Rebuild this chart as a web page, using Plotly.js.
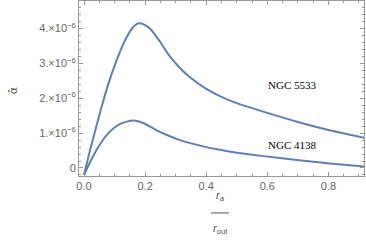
<!DOCTYPE html>
<html><head><meta charset="utf-8">
<script src="https://cdn.plot.ly/plotly-3.0.1.min.js"></script>
<style>html,body{margin:0;padding:0;background:#fff}#chart{width:366px;height:240px}</style>
</head><body><div id="chart"></div>
<script>
const ratio1 = [0, 0.02, 0.04, 0.06, 0.08, 0.10, 0.12, 0.14, 0.16, 0.178, 0.195, 0.216, 0.249, 0.281, 0.314, 0.35, 0.40, 0.45, 0.50, 0.60, 0.70, 0.80, 0.92];
const ngc5533 = [-0.2e-6, 0.52e-6, 1.18e-6, 1.83e-6, 2.42e-6, 2.93e-6, 3.38e-6, 3.76e-6, 4.03e-6, 4.15e-6, 4.12e-6, 4.00e-6, 3.62e-6, 3.20e-6, 2.87e-6, 2.58e-6, 2.27e-6, 2.04e-6, 1.86e-6, 1.58e-6, 1.32e-6, 1.09e-6, 0.86e-6];
const ratio2 = [0, 0.02, 0.04, 0.06, 0.08, 0.10, 0.12, 0.14, 0.163, 0.194, 0.238, 0.281, 0.314, 0.39, 0.445, 0.5, 0.587, 0.696, 0.805, 0.92];
const ngc4138 = [-0.2e-6, 0.17e-6, 0.50e-6, 0.78e-6, 1.00e-6, 1.16e-6, 1.27e-6, 1.33e-6, 1.36e-6, 1.29e-6, 1.08e-6, 0.91e-6, 0.80e-6, 0.62e-6, 0.52e-6, 0.44e-6, 0.34e-6, 0.23e-6, 0.13e-6, 0.04e-6];
const seriesNames = ["NGC 5533", "NGC 4138"];
const yTickVals = [0, 1e-6, 2e-6, 3e-6, 4e-6];
const yTickText = ["0", "1.×10<sup>−6</sup>", "2.×10<sup>−6</sup>", "3.×10<sup>−6</sup>", "4.×10<sup>−6</sup>"];
const xTickVals = [0, 0.2, 0.4, 0.6, 0.8];
const xTickText = ["0.0", "0.2", "0.4", "0.6", "0.8"];

const lineColor = '#5E81B5';
const traces = [
  {x: ratio1, y: ngc5533, mode: 'lines', line: {color: lineColor, width: 2, shape: 'spline', smoothing: 0.6}, name: seriesNames[0]},
  {x: ratio2, y: ngc4138, mode: 'lines', line: {color: lineColor, width: 2, shape: 'spline', smoothing: 0.6}, name: seriesNames[1]}
];
const axisCommon = {
  showgrid: false, zeroline: false, showline: true, linecolor: '#999', linewidth: 1,
  mirror: 'allticks', ticks: 'inside', ticklen: 4, tickcolor: '#999', tickwidth: 1,
  tickfont: {family: 'Liberation Sans, Arial, sans-serif', size: 11, color: '#666'}
};
const txtFont = {family: 'Liberation Sans, Arial, sans-serif', size: 11, color: '#555'};
const labelFont = {family: 'Liberation Serif, Times New Roman, serif', size: 11, color: '#000'};
const layout = {
  width: 366, height: 240,
  margin: {l: 79, r: 2, t: 1, b: 64},
  paper_bgcolor: '#fff', plot_bgcolor: '#fff',
  showlegend: false,
  xaxis: Object.assign({}, axisCommon, {
    range: [-0.0164, 0.9165], tickmode: 'array', tickvals: xTickVals, ticktext: xTickText,
    minor: {tickmode: 'linear', tick0: 0, dtick: 0.05, ticks: 'inside', ticklen: 2, tickcolor: '#999'}
  }),
  yaxis: Object.assign({}, axisCommon, {
    range: [-0.23e-6, 4.79e-6], tickmode: 'array', tickvals: yTickVals, ticktext: yTickText,
    minor: {tickmode: 'linear', tick0: 0, dtick: 0.2e-6, ticks: 'inside', ticklen: 2, tickcolor: '#999'}
  }),
  shapes: [
    {type: 'line', xref: 'paper', yref: 'paper', x0: 0.463, x1: 0.526, y0: -0.211, y1: -0.211,
     line: {color: '#555', width: 1}}
  ],
  annotations: [
    {x: 0.68, y: 2.38e-6, xref: 'x', yref: 'y', text: seriesNames[0], showarrow: false, font: labelFont},
    {x: 0.68, y: 0.66e-6, xref: 'x', yref: 'y', text: seriesNames[1], showarrow: false, font: labelFont},
    {xref: 'paper', yref: 'paper', x: 0.497, y: -0.112, yanchor: 'middle', text: '<i>r</i><sub><i>a</i></sub>', showarrow: false, font: txtFont},
    {xref: 'paper', yref: 'paper', x: 0.497, y: -0.30, yanchor: 'middle', text: '<i>r</i><sub>out</sub>', showarrow: false, font: txtFont},
    {xref: 'paper', yref: 'paper', x: -0.232, y: 0.49, xanchor: 'center', yanchor: 'middle', text: 'α̂', textangle: -90, showarrow: false,
     font: {family: 'DejaVu Sans, sans-serif', size: 11, color: '#555'}}
  ]
};
Plotly.newPlot('chart', traces, layout, {displayModeBar: false, staticPlot: true});
</script></body></html>
